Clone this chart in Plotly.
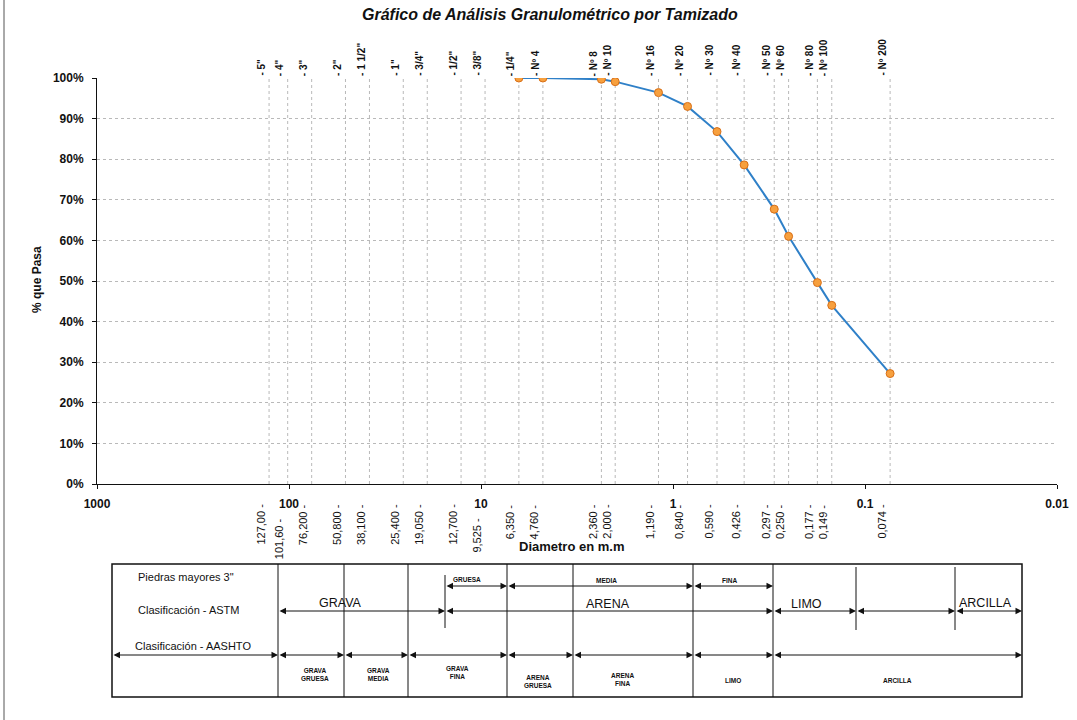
import math
import plotly.graph_objects as go

W, H = 1077, 720

# ---------------- data ----------------
sieve_names = ['5"', '4"', '3"', '2"', '1 1/2"', '1"', '3/4"', '1/2"', '3/8"', '1/4"',
               'Nº 4', 'Nº 8', 'Nº 10', 'Nº 16', 'Nº 20', 'Nº 30', 'Nº 40', 'Nº 50',
               'Nº 60', 'Nº 80', 'Nº 100', 'Nº 200']
diameters_mm = [127.0, 101.6, 76.2, 50.8, 38.1, 25.4, 19.05, 12.7, 9.525, 6.35,
                4.76, 2.36, 2.0, 1.19, 0.84, 0.59, 0.426, 0.297,
                0.25, 0.177, 0.149, 0.074]
diameter_labels = ['127,00', '101,60', '76,200', '50,800', '38,100', '25,400', '19,050',
                   '12,700', '9,525', '6,350', '4,760', '2,360', '2,000', '1,190', '0,840',
                   '0,590', '0,426', '0,297', '0,250', '0,177', '0,149', '0,074']
percent_passing = [None, None, None, None, None, None, None, None, None, 100.0,
                   100.0, 99.7, 99.1, 96.4, 93.0, 86.8, 78.6, 67.7,
                   61.0, 49.6, 44.0, 27.2]

decade_vals = [1000, 100, 10, 1, 0.1, 0.01]
decade_text = ['1000', '100', '10', '1', '0.1', '0.01']
pct_vals = [0, 10, 20, 30, 40, 50, 60, 70, 80, 90, 100]
pct_text = ['0%', '10%', '20%', '30%', '40%', '50%', '60%', '70%', '80%', '90%', '100%']

lowered_labels = ['101,60', '9,525']

FONT = "Arial, 'Liberation Sans', sans-serif"

# plot area in pixels
PX0, PX1, PY0, PY1 = 97, 1057, 78, 484


def px(x):
    return x / W


def py(y):
    return 1 - y / H


fig = go.Figure()

# vertical sieve grid lines
for d in diameters_mm:
    fig.add_trace(go.Scatter(x=[d, d], y=[0, 100], mode='lines',
                             line=dict(color='#b9b9b9', width=1, dash='dot'),
                             hoverinfo='skip', showlegend=False))

# curve
xs = [d for d, p in zip(diameters_mm, percent_passing) if p is not None]
ys = [p for p in percent_passing if p is not None]
fig.add_trace(go.Scatter(x=xs, y=ys, mode='lines+markers',
                         line=dict(color='#2F80C8', width=2),
                         marker=dict(color='#F7A03E', size=8,
                                     line=dict(color='#D86F17', width=1)),
                         showlegend=False))

ann = []
# top sieve labels
for name, d in zip(sieve_names, diameters_mm):
    ann.append(dict(text='- ' + name, xref='x', x=math.log10(d), yref='paper', y=py(78),
                    xanchor='center', yanchor='bottom', textangle=-90, showarrow=False,
                    xshift=-8, font=dict(family=FONT, size=10, color='#111', weight='bold')))
# bottom diameter labels
for lab, d in zip(diameter_labels, diameters_mm):
    ytop = 516 if lab in lowered_labels else 502
    ann.append(dict(text=lab + ' -', xref='x', x=math.log10(d), yref='paper', y=py(ytop),
                    xanchor='center', yanchor='top', textangle=-90, showarrow=False,
                    xshift=-9, font=dict(family=FONT, size=11, color='#111')))

# titles
ann.append(dict(text='<b><i>Gráfico de Análisis Granulométrico por Tamizado</i></b>',
                xref='paper', yref='paper', x=px(550), y=py(14), showarrow=False,
                xanchor='center', yanchor='middle', font=dict(family=FONT, size=16, color='#111')))
ann.append(dict(text='<b>% que Pasa</b>', xref='paper', yref='paper', x=px(37), y=py(280),
                textangle=-90, showarrow=False, xanchor='center', yanchor='middle',
                font=dict(family=FONT, size=12, color='#111')))
ann.append(dict(text='<b>Diametro en m.m</b>', xref='paper', yref='paper', x=px(571), y=py(546),
                showarrow=False, xanchor='center', yanchor='middle',
                font=dict(family=FONT, size=13, color='#111')))

shapes = []
# page frame line at left
shapes.append(dict(type='line', xref='paper', yref='paper', x0=px(4), x1=px(4), y0=0, y1=1,
                   line=dict(color='#555', width=1)))

# ---------------- classification table ----------------
TX0, TX1, TY0, TY1 = 112, 1022, 564, 697
shapes.append(dict(type='rect', xref='paper', yref='paper', x0=px(TX0), x1=px(TX1),
                   y0=py(TY1), y1=py(TY0), line=dict(color='#111', width=1.5)))
for xv in [278, 344, 408, 507, 573, 693, 773]:
    shapes.append(dict(type='line', xref='paper', yref='paper', x0=px(xv), x1=px(xv),
                       y0=py(TY1), y1=py(TY0), line=dict(color='#111', width=1)))
for xv, ya, yb in [(445, 575, 628), (856, 567, 630), (955, 567, 630)]:
    shapes.append(dict(type='line', xref='paper', yref='paper', x0=px(xv), x1=px(xv),
                       y0=py(yb), y1=py(ya), line=dict(color='#111', width=1)))


def arrow(x0, x1, y):
    ann.append(dict(text='', xref='paper', yref='paper', x=px(x1), y=py(y),
                    axref='pixel', ayref='pixel', ax=x0 - x1, ay=0,
                    showarrow=True, arrowhead=2, arrowside='end+start', arrowsize=1.3,
                    arrowwidth=1, arrowcolor='#111', standoff=0, startstandoff=0))


for a, b in [(445, 507), (507, 693), (693, 773)]:
    arrow(a, b, 586)
for a, b in [(278, 445), (445, 773), (773, 856), (856, 955), (955, 1022)]:
    arrow(a, b, 611)
for a, b in [(112, 278), (278, 344), (344, 408), (408, 507), (507, 573), (573, 693),
             (693, 773), (773, 1022)]:
    arrow(a, b, 655)


def label(text, x, y, size, bold=False, anchor='center'):
    ann.append(dict(text=('<b>%s</b>' % text) if bold else text, xref='paper', yref='paper',
                    x=px(x), y=py(y), showarrow=False, xanchor=anchor, yanchor='middle',
                    font=dict(family=FONT, size=size, color='#111')))


label('Piedras mayores 3"', 136, 577, 11, anchor='left')
label('Clasificación - ASTM', 136, 610, 11, anchor='left')
label('Clasificación - AASHTO', 133, 646, 11, anchor='left')
label('GRAVA', 340, 603, 12.5)
label('ARENA', 608, 604, 12.5)
label('LIMO', 806, 604, 12.5)
label('ARCILLA', 985, 603, 12.5)
label('GRUESA', 467, 579, 6.5, bold=True)
label('MEDIA', 606, 580, 6.5, bold=True)
label('FINA', 729, 580, 6.5, bold=True)
label('GRAVA<br>GRUESA', 315, 674, 6.5, bold=True)
label('GRAVA<br>MEDIA', 378, 674, 6.5, bold=True)
label('GRAVA<br>FINA', 457, 672, 6.5, bold=True)
label('ARENA<br>GRUESA', 538, 681, 6.5, bold=True)
label('ARENA<br>FINA', 622, 679, 6.5, bold=True)
label('LIMO', 733, 680, 6.5, bold=True)
label('ARCILLA', 897, 680, 6.5, bold=True)

fig.update_layout(
    template='none',
    width=W, height=H,
    margin=dict(l=0, r=0, t=0, b=0, pad=0),
    paper_bgcolor='white', plot_bgcolor='rgba(0,0,0,0)',
    showlegend=False,
    xaxis=dict(type='log', range=[3, -2], domain=[px(PX0), px(PX1)],
               tickvals=decade_vals, ticktext=['<b>%s</b>' % t for t in decade_text],
               tickfont=dict(family=FONT, size=12, color='#111'),
               showline=True, linecolor='#111', linewidth=1, mirror=False,
               ticks='outside', ticklen=4, tickcolor='#111',
               showgrid=False, zeroline=False, automargin=False, ticklabelstandoff=5),
    yaxis=dict(range=[0, 100], domain=[py(PY1), py(PY0)],
               tickvals=pct_vals, ticktext=['<b>%s</b>' % t for t in pct_text],
               tickfont=dict(family=FONT, size=12, color='#111'),
               showline=True, linecolor='#111', linewidth=1, mirror=False,
               ticks='outside', ticklen=4, tickcolor='#111',
               showgrid=True, gridcolor='#b9b9b9', griddash='dot', gridwidth=1,
               zeroline=False, automargin=False, ticklabelstandoff=6),
    annotations=ann,
    shapes=shapes,
)

fig.write_html("out.html")
